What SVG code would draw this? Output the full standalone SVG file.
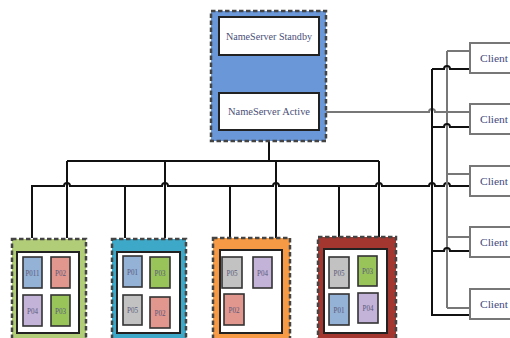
<svg xmlns="http://www.w3.org/2000/svg" width="510" height="338" viewBox="0 0 510 338">
<style>
.outer{stroke:#444;stroke-width:2.5;stroke-dasharray:4.5 2.5}
.inner{fill:#fff;stroke:#222;stroke-width:2}
.pod{stroke:#333;stroke-width:1.6}
.ptxt{font-family:"Liberation Serif",serif;font-size:8.5px;fill:#5a5a7a;text-anchor:middle}
.ntxt{font-family:"Liberation Serif",serif;font-size:10px;fill:#4a4f78;text-anchor:middle}
.ctxt{font-family:"Liberation Serif",serif;font-size:10px;fill:#3f4a80}
.blk{fill:none;stroke:#111;stroke-width:2}
.gry{fill:none;stroke:#777;stroke-width:2}
.client{fill:#fff;stroke:#777;stroke-width:2}
.bl{fill:#94b1d6}.rd{fill:#e1968e}.pu{fill:#c4b3d8}.gr{fill:#99c45a}.gy{fill:#c2c2c2}
</style>
<rect width="510" height="338" fill="#fff"/>

<g id="connectors">
  <path class="blk" d="M269,55 V93 M269,130 V161"/>
  <path class="blk" d="M67,161 H379 M67,161 V238 M165,161 V238 M276,161 V238 M379,161 V238"/>
  <path class="blk" d="M32,238 V186 H64 A3,3 0 0 1 70,186 H162 A3,3 0 0 1 168,186 H273 A3,3 0 0 1 279,186 H376 A3,3 0 0 1 382,186 H429 A3,3 0 0 1 435,186 H444 A3,3 0 0 1 450,186 H470"/>
  <path class="blk" d="M125,186 V238 M230,186 V238 M339,186 V238"/>
  <path class="gry" d="M319,112 H429 A3,3 0 0 1 435,112 H470"/>
  <path class="gry" d="M447,51 V308 M447,51 H470 M447,174 H470 M447,237 H470 M447,308 H470"/>
  <path class="blk" d="M432,69 V315 H470"/>
  <path class="blk" d="M432,69 H444 A3,3 0 0 1 450,69 H470"/>
  <path class="blk" d="M432,127 H444 A3,3 0 0 1 450,127 H470"/>
  <path class="blk" d="M432,251 H444 A3,3 0 0 1 450,251 H470"/>
</g>

<g id="nameserver">
  <rect class="outer" x="211" y="11" width="115" height="130" fill="#6a97d8"/>
  <g id="ns-standby">
    <rect class="inner" x="219" y="17" width="100" height="38"/>
    <text class="ntxt" x="269" y="39.5" textLength="86" lengthAdjust="spacingAndGlyphs">NameServer Standby</text>
  </g>
  <g id="ns-active">
    <rect class="inner" x="219" y="93" width="100" height="37"/>
    <text class="ntxt" x="269" y="115" textLength="82" lengthAdjust="spacingAndGlyphs">NameServer Active</text>
  </g>
</g>

<g id="node1">
  <rect class="outer" x="12" y="239" width="74" height="102" fill="#b2cd78"/>
  <rect class="inner" x="17" y="252" width="62" height="81"/>
  <rect class="pod bl" x="23" y="257" width="19" height="31"/><text class="ptxt" x="32.5" y="275.5" textLength="14" lengthAdjust="spacingAndGlyphs">P011</text>
  <rect class="pod rd" x="51" y="257" width="19" height="31"/><text class="ptxt" x="60.5" y="275.5" textLength="11" lengthAdjust="spacingAndGlyphs">P02</text>
  <rect class="pod pu" x="23" y="295" width="19" height="31"/><text class="ptxt" x="32.5" y="313.5" textLength="11" lengthAdjust="spacingAndGlyphs">P04</text>
  <rect class="pod gr" x="51" y="295" width="19" height="31"/><text class="ptxt" x="60.5" y="313.5" textLength="11" lengthAdjust="spacingAndGlyphs">P03</text>
</g>

<g id="node2">
  <rect class="outer" x="112" y="239" width="74" height="102" fill="#3ea8c8"/>
  <rect class="inner" x="117" y="252" width="63" height="81"/>
  <rect class="pod bl" x="123" y="256" width="19" height="31"/><text class="ptxt" x="132.5" y="274.5" textLength="11" lengthAdjust="spacingAndGlyphs">P01</text>
  <rect class="pod gr" x="150" y="257" width="20" height="31"/><text class="ptxt" x="160" y="275.5" textLength="11" lengthAdjust="spacingAndGlyphs">P03</text>
  <rect class="pod gy" x="123" y="295" width="19" height="30"/><text class="ptxt" x="132.5" y="313" textLength="11" lengthAdjust="spacingAndGlyphs">P05</text>
  <rect class="pod rd" x="150" y="297" width="20" height="31"/><text class="ptxt" x="160" y="315.5" textLength="11" lengthAdjust="spacingAndGlyphs">P02</text>
</g>

<g id="node3">
  <rect class="outer" x="213" y="238" width="77" height="103" fill="#f79a45"/>
  <rect class="inner" x="220" y="250" width="62" height="83"/>
  <rect class="pod gy" x="222" y="257" width="20" height="31"/><text class="ptxt" x="232" y="275.5" textLength="11" lengthAdjust="spacingAndGlyphs">P05</text>
  <rect class="pod pu" x="253" y="257" width="19" height="31"/><text class="ptxt" x="262.5" y="275.5" textLength="11" lengthAdjust="spacingAndGlyphs">P04</text>
  <rect class="pod rd" x="224" y="294" width="20" height="31"/><text class="ptxt" x="234" y="312.5" textLength="11" lengthAdjust="spacingAndGlyphs">P02</text>
</g>

<g id="node4">
  <rect class="outer" x="318" y="237" width="78" height="104" fill="#a3372f"/>
  <rect class="inner" x="324" y="249" width="63" height="84"/>
  <rect class="pod gy" x="329" y="257" width="20" height="31"/><text class="ptxt" x="339" y="275.5" textLength="11" lengthAdjust="spacingAndGlyphs">P05</text>
  <rect class="pod gr" x="358" y="256" width="19" height="30"/><text class="ptxt" x="367.5" y="274" textLength="11" lengthAdjust="spacingAndGlyphs">P03</text>
  <rect class="pod bl" x="329" y="294" width="20" height="31"/><text class="ptxt" x="339" y="312.5" textLength="11" lengthAdjust="spacingAndGlyphs">P01</text>
  <rect class="pod pu" x="358" y="293" width="20" height="30"/><text class="ptxt" x="368" y="311" textLength="11" lengthAdjust="spacingAndGlyphs">P04</text>
</g>

<g id="client1"><rect class="client" x="470" y="43" width="50" height="30"/><text class="ctxt" x="480" y="61.5" textLength="28" lengthAdjust="spacingAndGlyphs">Client</text></g>
<g id="client2"><rect class="client" x="470" y="104" width="50" height="30"/><text class="ctxt" x="480" y="122.5" textLength="28" lengthAdjust="spacingAndGlyphs">Client</text></g>
<g id="client3"><rect class="client" x="470" y="166" width="50" height="30"/><text class="ctxt" x="480" y="184.5" textLength="28" lengthAdjust="spacingAndGlyphs">Client</text></g>
<g id="client4"><rect class="client" x="470" y="227" width="50" height="30"/><text class="ctxt" x="480" y="245.5" textLength="28" lengthAdjust="spacingAndGlyphs">Client</text></g>
<g id="client5"><rect class="client" x="470" y="289" width="50" height="30"/><text class="ctxt" x="480" y="307.5" textLength="28" lengthAdjust="spacingAndGlyphs">Client</text></g>
</svg>
